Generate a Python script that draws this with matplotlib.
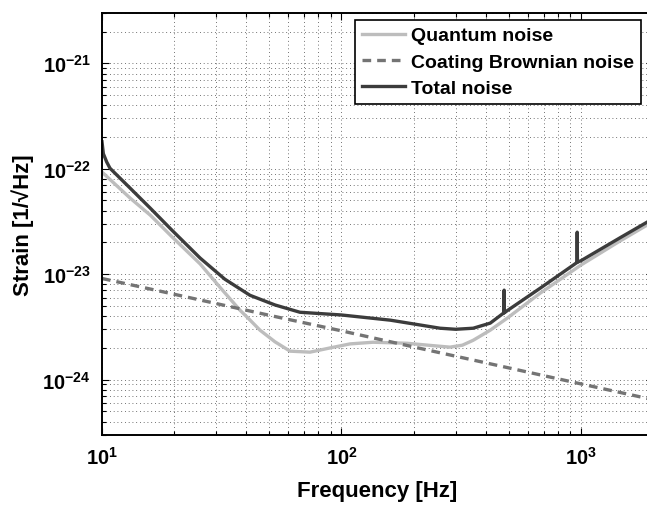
import numpy as np
import matplotlib
matplotlib.use('Agg')
import matplotlib.pyplot as plt
from matplotlib.ticker import LogLocator, NullFormatter, FixedLocator

plt.rcParams['font.family'] = ['Liberation Sans', 'DejaVu Sans']
plt.rcParams['font.weight'] = 'bold'
plt.rcParams['mathtext.fontset'] = 'custom'
plt.rcParams['mathtext.rm'] = 'Liberation Sans:bold'
plt.rcParams['mathtext.bf'] = 'Liberation Sans:bold'
plt.rcParams['mathtext.default'] = 'bf'

# ── Data ──────────────────────────────────────────────────────
quantum_f = [10, 13.1, 15.9, 19.6, 25.7, 31.1, 37.7, 41.5, 45.7, 52.8, 61,
             73.9, 90, 108.6, 135.5, 188, 240, 284, 320, 355, 418, 492, 676,
             1000, 1450, 2000]
quantum_h = [9.3e-23, 5.27e-23, 3.63e-23, 2.26e-23, 1.25e-23, 7.5e-24,
             4.55e-24, 3.67e-24, 2.94e-24, 2.28e-24, 1.86e-24,
             1.82e-24, 2.0e-24, 2.18e-24, 2.26e-24, 2.21e-24, 2.1e-24, 2.03e-24,
             2.12e-24, 2.36e-24, 2.94e-24, 3.82e-24, 6.6e-24,
             1.22e-23, 2.05e-23, 3.15e-23]

coating_f = [10, 20, 50, 100, 200, 500, 1000, 2000]
coating_h = [9.1e-24, 6.45e-24, 4.07e-24, 2.9e-24, 2.04e-24, 1.29e-24,
             9.1e-25, 6.45e-25]

total_f = [10, 10.13, 10.46, 10.8, 13.1, 15.9, 19.6, 25.7, 32.6, 41.5, 52.8,
           67.1, 85, 100, 160, 258, 300, 355, 418, 477, 478, 479, 492, 676,
           963, 965, 967, 1000, 1450, 1892, 2000]
total_h = [1.8e-22, 1.39e-22, 1.16e-22, 1.01e-22, 6.55e-23, 4.23e-23, 2.61e-23,
           1.42e-23, 8.95e-24, 6.3e-24, 5.1e-24, 4.35e-24, 4.2e-24, 4.1e-24,
           3.66e-24, 3.07e-24, 3.0e-24, 3.07e-24, 3.43e-24, 4.3e-24, 7.05e-24,
           4.3e-24, 4.5e-24, 7.36e-24, 1.29e-23, 2.5e-23, 1.3e-23, 1.34e-23,
           2.2e-23, 3.12e-23, 3.3e-23]

x_ticks = [10, 100, 1000]
y_ticks = [1e-24, 1e-23, 1e-22, 1e-21]

# ── Plot ──────────────────────────────────────────────────────
fig = plt.figure(figsize=(6.47, 5.06), dpi=100)
ax = fig.add_axes([102 / 647, 1 - 435.7 / 506, 551 / 647, (435.7 - 14) / 506])

ax.loglog(quantum_f, quantum_h, color='#bdbdbd', lw=2.4, label='Quantum noise')
ax.loglog(coating_f, coating_h, color='#747474', lw=2.4, ls=(0, (2.6, 1.8)),
          label='Coating Brownian noise')
ax.loglog(total_f, total_h, color='#3c3c3c', lw=2.4, label='Total noise')

ax.set_xlim(10, 2000)
ax.set_ylim(3e-25, 3e-21)

ax.xaxis.set_major_locator(FixedLocator(x_ticks))
ax.yaxis.set_major_locator(FixedLocator(y_ticks))
ax.xaxis.set_minor_locator(LogLocator(base=10, subs=np.arange(2, 10), numticks=20))
ax.yaxis.set_minor_locator(LogLocator(base=10, subs=np.arange(2, 10), numticks=20))
ax.xaxis.set_minor_formatter(NullFormatter())
ax.yaxis.set_minor_formatter(NullFormatter())

ax.grid(which='both', color='#444444', ls=(0, (1, 3.5)), lw=0.6)
ax.tick_params(which='both', direction='in', top=True, right=True,
               labelsize=14.5, width=0.8)
ax.tick_params(which='major', length=5, pad=8)
ax.tick_params(which='minor', length=3)
for s in ax.spines.values():
    s.set_linewidth(1.4)

ax.set_xlabel('Frequency [Hz]', fontsize=16, fontweight='bold', labelpad=9)
ax.set_ylabel('Strain [1/\u221aHz]', fontsize=16, fontweight='bold', labelpad=6)

leg = ax.legend(loc='upper left', bbox_to_anchor=(355 / 647, 1 - 21 / 506),
                bbox_transform=fig.transFigure, fontsize=14, frameon=True,
                fancybox=False, edgecolor='black', framealpha=1,
                borderpad=0.35, labelspacing=0.45, handlelength=2.2,
                handletextpad=0.35, borderaxespad=0)
leg.get_frame().set_linewidth(1.2)
for t in leg.get_texts():
    t.set_fontweight('bold')

fig.savefig('out.png', dpi=100)
